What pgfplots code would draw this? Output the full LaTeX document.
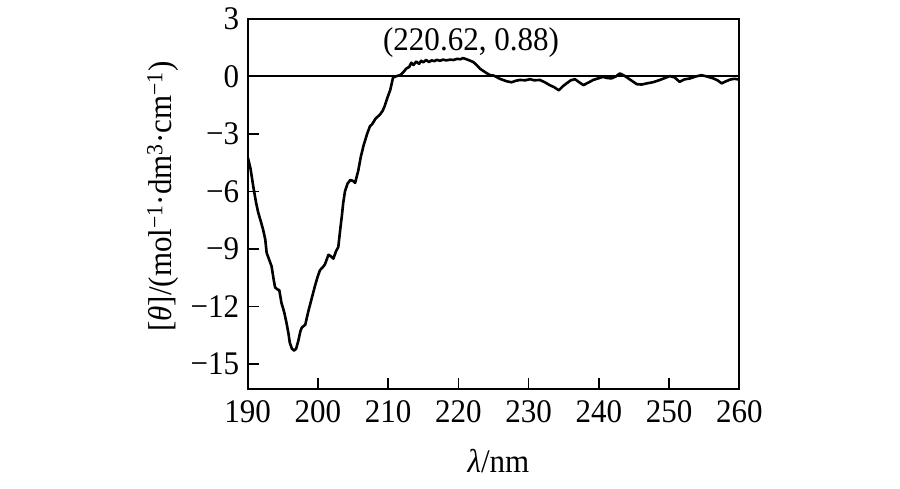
\documentclass[border=0pt]{standalone}
\usepackage{fontspec}
\setmainfont{Liberation Serif}[FakeStretch=0.94]
\usepackage{pgfplots}
\pgfplotsset{compat=1.18}
\begin{document}
\begin{tikzpicture}
\path[use as bounding box] (-247.7pt,-99.7pt) rectangle (652.3pt,389.3pt);
\begin{axis}[
  scale only axis,
  width=491.6pt, height=370.3pt,
  xmin=190, xmax=260, ymin=-16.32, ymax=3,
  axis line style={line width=1.8pt},
  tick style={line width=1.6pt, black},
  tick align=inside, tick pos=left,
  major tick length=11pt,
  xtick={190,200,210,220,230,240,250,260},
  xticklabels={190,200,210,220,230,240,250,260},
  ytick={-15,-12,-9,-6,-3,0,3},
  yticklabels={−15,−12,−9,−6,−3,0,3},
  font=\fontsize{33}{36}\selectfont,
  xticklabel style={yshift=-8pt},
  yticklabel style={xshift=-5pt},
  xlabel={\textit{λ}/nm},
  ylabel={[\textit{θ}]/(mol\textsuperscript{−1}·dm\textsuperscript{3}·cm\textsuperscript{−1})},
  xlabel style={at={(axis description cs:0.51,0)}, anchor=center, yshift=-72pt},
  ylabel style={at={(axis description cs:0,0.52)}, anchor=center, yshift=85pt},
]
\addplot[black, line width=2pt] coordinates {(190,0) (260,0)};
\addplot[black, line width=2.6pt, line join=round] coordinates {
(190.0,-4.2) (190.4,-4.8) (190.8,-5.75) (191.2,-6.6) (191.5,-7.1) (191.9,-7.6)
(192.2,-8.0) (192.5,-8.5) (192.7,-9.2) (193.1,-9.6) (193.4,-9.9) (193.7,-10.6)
(193.9,-11.0) (194.2,-11.1) (194.5,-11.15) (194.8,-11.8) (195.2,-12.3) (195.55,-12.9)
(195.8,-13.4) (196.0,-13.9) (196.3,-14.2) (196.6,-14.3) (196.9,-14.2) (197.2,-13.8)
(197.5,-13.3) (197.7,-13.1) (198.2,-12.95) (198.6,-12.3) (199.1,-11.6) (199.6,-10.9)
(200.0,-10.4) (200.3,-10.1) (200.7,-9.95) (201.0,-9.8) (201.5,-9.3) (201.9,-9.4)
(202.2,-9.5) (202.6,-9.1) (202.9,-8.9) (203.2,-7.9) (203.4,-7.3) (203.6,-6.6)
(203.85,-6.0) (204.2,-5.6) (204.6,-5.4) (205.0,-5.45) (205.3,-5.55) (205.75,-4.9)
(206.1,-4.2) (206.5,-3.6) (207.0,-3.0) (207.4,-2.6) (207.7,-2.5) (208.2,-2.2)
(208.8,-2.0) (209.2,-1.8) (209.5,-1.55) (209.9,-1.1) (210.3,-0.7) (210.7,-0.05)
(211.2,0.02) (211.7,0.07) (212.1,0.2) (212.6,0.42) (213.0,0.5) (213.3,0.72)
(213.6,0.6) (214.0,0.78) (214.4,0.66) (214.7,0.82) (215.0,0.74) (215.4,0.86)
(215.8,0.76) (216.2,0.84) (216.6,0.8) (216.9,0.87) (217.4,0.82) (217.8,0.88)
(218.3,0.84) (218.8,0.88) (219.3,0.86) (219.8,0.92) (220.3,0.9) (220.62,0.96)
(221.0,0.92) (221.5,0.85) (222.1,0.76) (222.6,0.6) (223.1,0.4) (223.5,0.3)
(224.0,0.18) (224.5,0.07) (225.0,0.05) (225.4,-0.02) (225.9,-0.12) (226.5,-0.2)
(227.0,-0.26) (227.6,-0.3) (228.2,-0.22) (228.8,-0.18) (229.5,-0.2) (230.2,-0.14)
(230.8,-0.2) (231.6,-0.18) (232.3,-0.3) (233.0,-0.45) (233.6,-0.55) (234.3,-0.72)
(234.9,-0.5) (235.4,-0.36) (236.0,-0.2) (236.6,-0.14) (237.2,-0.3) (237.8,-0.45)
(238.5,-0.32) (239.2,-0.18) (239.9,-0.1) (240.6,-0.02) (241.2,-0.08) (241.8,-0.1)
(242.4,0.0) (243.0,0.16) (243.6,0.05) (244.2,-0.1) (244.8,-0.25) (245.4,-0.4)
(246.1,-0.42) (246.8,-0.36) (247.7,-0.3) (248.7,-0.18) (249.4,-0.08) (250.1,0.02)
(250.8,-0.05) (251.5,-0.28) (252.2,-0.15) (253.0,-0.1) (253.8,0.0) (254.6,0.07)
(255.4,0.0) (256.3,-0.1) (256.9,-0.2) (257.5,-0.36) (258.1,-0.25) (258.7,-0.16)
(259.3,-0.12) (260.0,-0.16)
};
\node[font=\fontsize{33}{36}\selectfont] at (axis cs:221.8,1.79) {(220.62, 0.88)};
\end{axis}
\end{tikzpicture}
\end{document}
